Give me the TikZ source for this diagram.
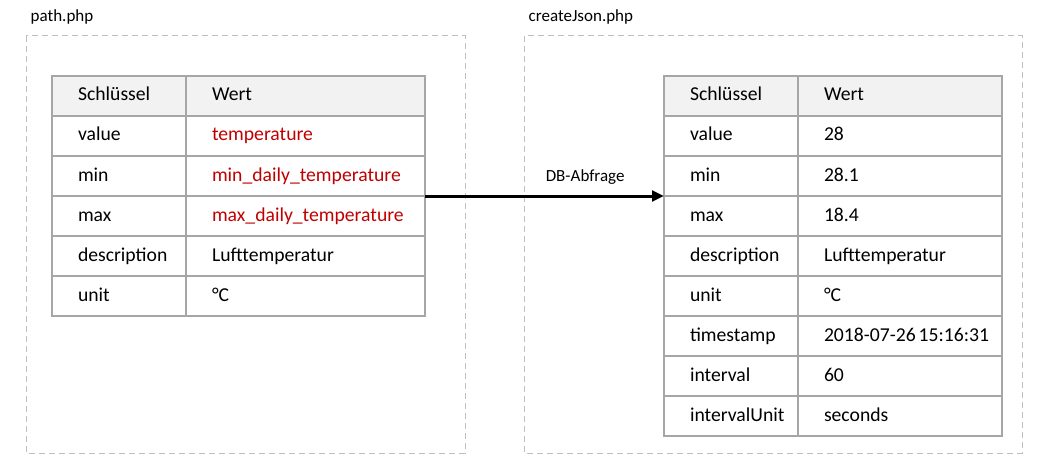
\documentclass[tikz,border=0pt]{standalone}
\usepackage{fontspec}
\setmainfont{Carlito}
\usepackage{xcolor}
\usetikzlibrary{arrows.meta, positioning}

\definecolor{redval}{HTML}{C00000}
\definecolor{headgray}{HTML}{F2F2F2}
\definecolor{gridgray}{HTML}{A6A6A6}
\definecolor{framegray}{HTML}{BFBFBF}
\newcommand{\redtext}[1]{\textcolor{redval}{#1}}

\begin{document}
\begin{tikzpicture}[x=0.75pt, y=-0.75pt, font=\fontsize{12.75pt}{15pt}\selectfont,
    cell/.style={rectangle, draw=gridgray, line width=1pt, outer sep=0pt, inner xsep=19.5pt, inner ysep=0pt, minimum height=30pt, text height=11pt, text depth=3.5pt, align=left, font=\fontsize{14.75pt}{17pt}\selectfont},
    keycell/.style={cell, text width=61.5pt},
    valcell/.style={cell, text width=#1},
    head/.style={fill=headgray},
    frame/.style={draw=framegray, line width=0.75pt, dash pattern=on 4.5pt off 3pt},
    arrow/.style={-{Triangle[length=9pt, width=8pt]}, line width=2.25pt}
]
\useasboundingbox (0,0) rectangle (1049,456);

% dashed frames
\draw[frame] (26,36) rectangle (465,453);
\draw[frame] (524,36) rectangle (1022,453);
\node[anchor=west] (path) at (26,17) {path.php};
\node[anchor=west] (create) at (524,17) {createJson.php};

% left table
\node[keycell, head, anchor=north west] (l-k0) at (52,76) {Schlüssel};
\node[valcell=140.25pt, head, right=0pt of l-k0] (l-v0) {Wert};
\foreach \k/\v [count=\i, remember=\i as \j (initially 0)] in {value/\redtext{temperature}, min/\redtext{min\_daily\_temperature}, max/\redtext{max\_daily\_temperature}, description/Lufttemperatur, unit/°C} {
  \node[keycell, below=0pt of l-k\j] (l-k\i) {\k};
  \node[valcell=140.25pt, right=0pt of l-k\i] (l-v\i) {\v};
}

% right table
\node[keycell, head, anchor=north west] (r-k0) at (664,76) {Schlüssel};
\node[valcell=114pt, head, right=0pt of r-k0] (r-v0) {Wert};
\foreach \k/\v [count=\i, remember=\i as \j (initially 0)] in {value/28, min/28.1, max/18.4, description/Lufttemperatur, unit/°C, timestamp/\mbox{2018-07-26\hspace{0.15em}15:16:31}, interval/60, intervalUnit/seconds} {
  \node[keycell, below=0pt of r-k\j] (r-k\i) {\k};
  \node[valcell=114pt, right=0pt of r-k\i] (r-v\i) {\v};
}

\draw[arrow] (l-v2.south east) -- node[above=4pt, pos=0.67] (query) {DB-Abfrage} (r-k2.south west);
\end{tikzpicture}
\end{document}
